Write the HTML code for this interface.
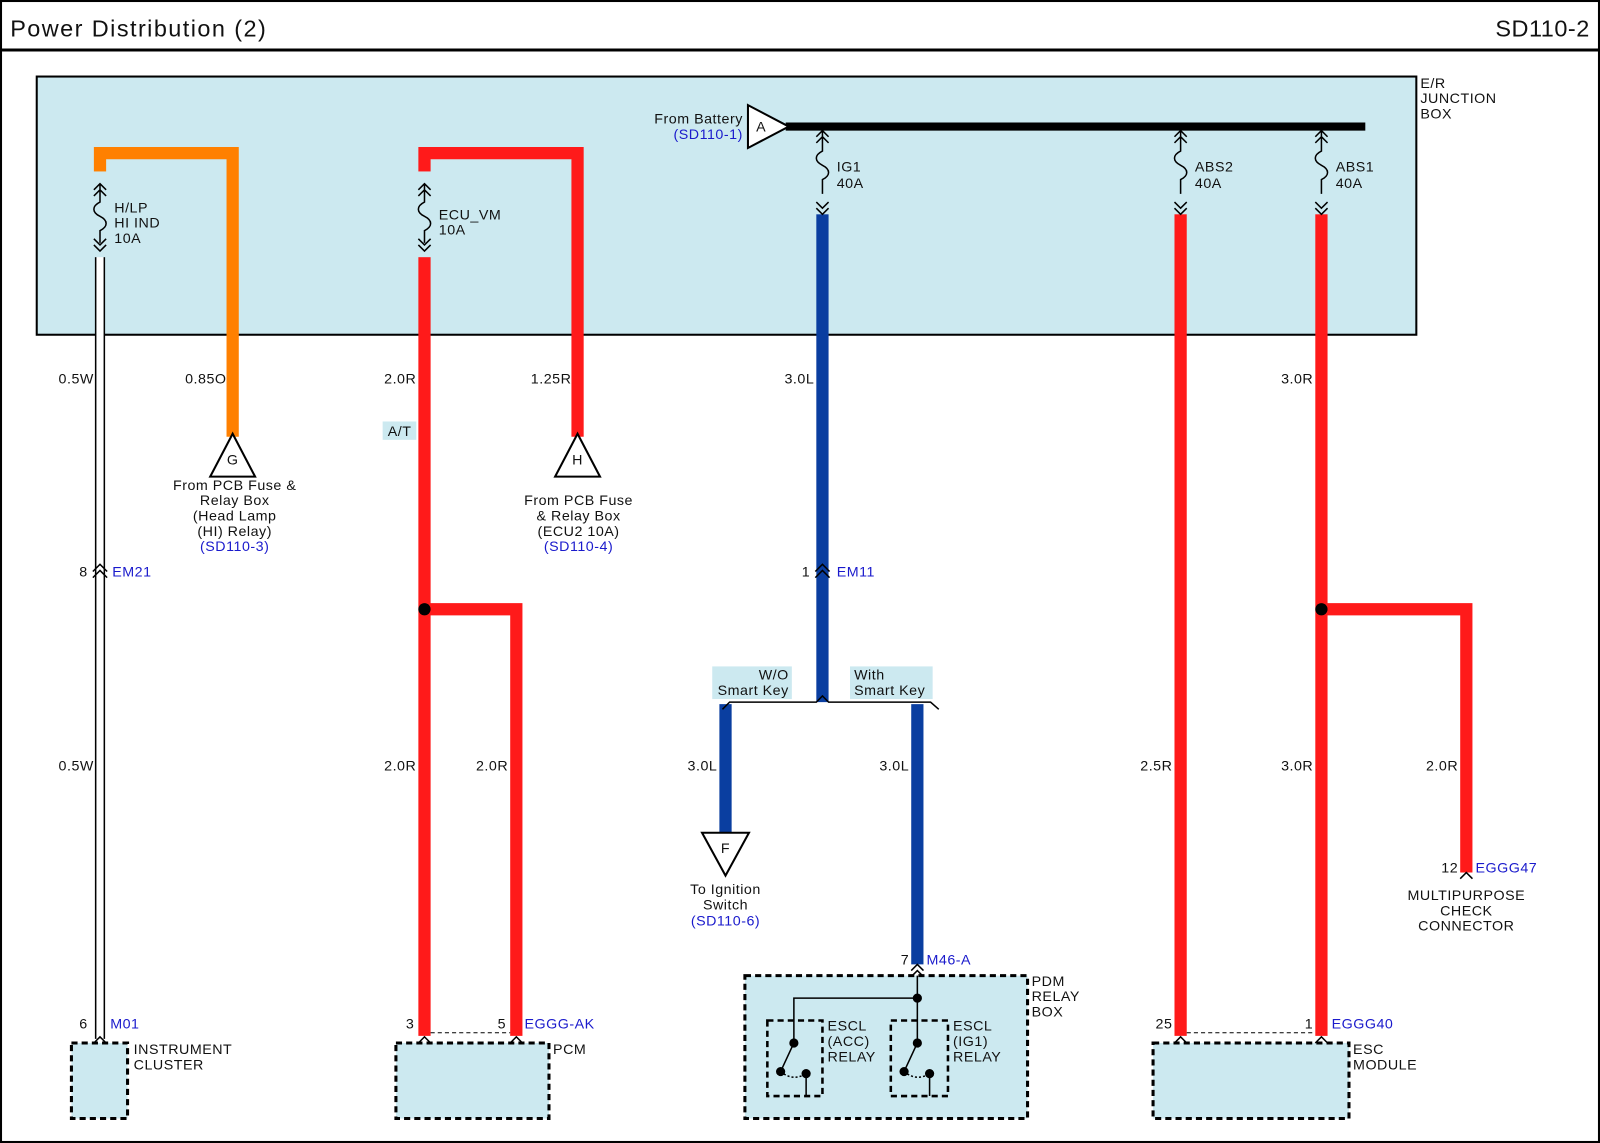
<!DOCTYPE html>
<html><head><meta charset="utf-8"><style>
html,body{margin:0;padding:0;background:#fff}
svg{display:block}
text{font-family:"Liberation Sans",Arial,sans-serif;font-size:14px;letter-spacing:0.5px;fill:#111}
.b{fill:#1a1acc}
</style></head><body>
<svg width="1600" height="1143" viewBox="0 0 1568 1120" preserveAspectRatio="none" xmlns="http://www.w3.org/2000/svg">
<rect x="1" y="1" width="1566" height="1118" fill="#fff" stroke="#000" stroke-width="2"/>
<text x="10" y="36" style="font-size:23px;letter-spacing:1.4px">Power Distribution (2)</text>
<text x="1558" y="36" text-anchor="end" style="font-size:23px;letter-spacing:0.5px">SD110-2</text>
<line x1="0" y1="49" x2="1568" y2="49" stroke="#000" stroke-width="3"/>

<!-- junction box -->
<rect x="36" y="75" width="1352" height="253" fill="#cce9f0" stroke="#000" stroke-width="2"/>
<text x="1392" y="86">E/R</text><text x="1392" y="101">JUNCTION</text><text x="1392" y="116">BOX</text>

<!-- wires -->
<g fill="none" stroke-linejoin="miter">
<polyline points="98,250 98,150 228,150 228,428" stroke="#ff8000" stroke-width="12" />
<polyline points="416,250 416,150 566,150 566,428" stroke="#ff1a1a" stroke-width="12"/>
<line x1="416" y1="250" x2="416" y2="1015" stroke="#ff1a1a" stroke-width="12"/>
<polyline points="416,597 506,597 506,1015" stroke="#ff1a1a" stroke-width="12"/>
<line x1="806" y1="205" x2="806" y2="688" stroke="#0a3ea0" stroke-width="12"/>
<line x1="711" y1="690" x2="711" y2="818" stroke="#0a3ea0" stroke-width="12"/>
<line x1="899" y1="690" x2="899" y2="945" stroke="#0a3ea0" stroke-width="12"/>
<line x1="1157" y1="205" x2="1157" y2="1015" stroke="#ff1a1a" stroke-width="12"/>
<line x1="1295" y1="205" x2="1295" y2="1015" stroke="#ff1a1a" stroke-width="12"/>
<polyline points="1295,597 1437,597 1437,855" stroke="#ff1a1a" stroke-width="12"/>
<line x1="98" y1="250" x2="98" y2="1018" stroke="#000" stroke-width="10"/>
<line x1="98" y1="250" x2="98" y2="1018" stroke="#fff" stroke-width="7"/>
</g>
<rect x="91" y="168" width="14" height="84" fill="#cce9f0"/>
<rect x="409" y="168" width="14" height="84" fill="#cce9f0"/>
<rect x="799" y="129" width="14" height="81" fill="#cce9f0"/>
<rect x="1150" y="129" width="14" height="81" fill="#cce9f0"/>
<rect x="1288" y="129" width="14" height="81" fill="#cce9f0"/>

<!-- battery -->
<line x1="770" y1="124" x2="1338" y2="124" stroke="#000" stroke-width="8"/>
<polygon points="733,103 773,124 733,145" fill="#fff" stroke="#000" stroke-width="2"/>
<text x="741" y="129">A</text>
<text x="728" y="121" text-anchor="end">From Battery</text>
<text x="728" y="136" text-anchor="end" class="b">(SD110-1)</text>

<!-- fuses -->
<g fill="none" stroke="#000" stroke-width="1.5">
<path d="M92,186 l6,-6 l6,6 M92,192 l6,-6 l6,6 M98,180 v18 c-8,4 -8,10 0,14 c8,4 8,10 0,14 v12 M92,234 l6,6 l6,-6 M92,240 l6,6 l6,-6"/>
<path d="M410,186 l6,-6 l6,6 M410,192 l6,-6 l6,6 M416,180 v18 c-8,4 -8,10 0,14 c8,4 8,10 0,14 v12 M410,234 l6,6 l6,-6 M410,240 l6,6 l6,-6"/>
<path d="M800,134 l6,-6 l6,6 M800,140 l6,-6 l6,6 M806,128 v20 c-8,4 -8,10 0,14 c8,4 8,10 0,14 v14 M800,198 l6,6 l6,-6 M800,204 l6,6 l6,-6"/>
<path d="M1151,134 l6,-6 l6,6 M1151,140 l6,-6 l6,6 M1157,128 v20 c-8,4 -8,10 0,14 c8,4 8,10 0,14 v14 M1151,198 l6,6 l6,-6 M1151,204 l6,6 l6,-6"/>
<path d="M1289,134 l6,-6 l6,6 M1289,140 l6,-6 l6,6 M1295,128 v20 c-8,4 -8,10 0,14 c8,4 8,10 0,14 v14 M1289,198 l6,6 l6,-6 M1289,204 l6,6 l6,-6"/>
</g>
<text x="112" y="208">H/LP</text><text x="112" y="223">HI IND</text><text x="112" y="238">10A</text>
<text x="430" y="215">ECU_VM</text><text x="430" y="230">10A</text>
<text x="820" y="168">IG1</text><text x="820" y="184">40A</text>
<text x="1171" y="168">ABS2</text><text x="1171" y="184">40A</text>
<text x="1309" y="168">ABS1</text><text x="1309" y="184">40A</text>

<!-- wire labels -->
<text x="92" y="376" text-anchor="end">0.5W</text>
<text x="222" y="376" text-anchor="end">0.85O</text>
<text x="408" y="376" text-anchor="end">2.0R</text>
<text x="560" y="376" text-anchor="end">1.25R</text>
<text x="798" y="376" text-anchor="end">3.0L</text>
<text x="1287" y="376" text-anchor="end">3.0R</text>
<text x="92" y="755" text-anchor="end">0.5W</text>
<text x="408" y="755" text-anchor="end">2.0R</text>
<text x="498" y="755" text-anchor="end">2.0R</text>
<text x="703" y="755" text-anchor="end">3.0L</text>
<text x="891" y="755" text-anchor="end">3.0L</text>
<text x="1149" y="755" text-anchor="end">2.5R</text>
<text x="1287" y="755" text-anchor="end">3.0R</text>
<text x="1429" y="755" text-anchor="end">2.0R</text>
<rect x="375" y="413" width="33" height="18" fill="#cce9f0"/><text x="380" y="427">A/T</text>

<!-- triangles -->
<polygon points="228,425 206,467 250,467" fill="#fff" stroke="#000" stroke-width="2"/>
<text x="228" y="455" text-anchor="middle">G</text>
<polygon points="566,425 544,467 588,467" fill="#fff" stroke="#000" stroke-width="2"/>
<text x="566" y="455" text-anchor="middle">H</text>
<polygon points="688,816 734,816 711,858" fill="#fff" stroke="#000" stroke-width="2"/>
<text x="711" y="836" text-anchor="middle">F</text>
<g text-anchor="middle">
<text x="230" y="480">From PCB Fuse &amp;</text><text x="230" y="495">Relay Box</text><text x="230" y="510">(Head Lamp</text><text x="230" y="525">(HI) Relay)</text><text x="230" y="540" class="b">(SD110-3)</text>
<text x="567" y="495">From PCB Fuse</text><text x="567" y="510">&amp; Relay Box</text><text x="567" y="525">(ECU2 10A)</text><text x="567" y="540" style="fill:#1a1acc">(SD110-4)</text>
<text x="711" y="876">To Ignition</text><text x="711" y="891">Switch</text><text x="711" y="907" style="fill:#1a1acc">(SD110-6)</text>
<text x="1437" y="882">MULTIPURPOSE</text><text x="1437" y="897">CHECK</text><text x="1437" y="912">CONNECTOR</text>
</g>

<!-- inline connectors -->
<g fill="none" stroke="#000" stroke-width="1.5">
<path d="M91,560 l7,-7 l7,7 M91,566 l7,-7 l7,7"/>
<path d="M799,560 l7,-7 l7,7 M799,566 l7,-7 l7,7"/>
<path d="M708,695 L715,688 H800 L806,682 L812,688 H912 L920,695"/>
<path d="M893,951 l6,-6 l6,6 M893,957 l6,-6 l6,6"/>
<path d="M1431,861 l6,-6 l6,6"/>
</g>
<text x="86" y="565" text-anchor="end">8</text><text x="110" y="565" class="b">EM21</text>
<text x="794" y="565" text-anchor="end">1</text><text x="820" y="565" class="b">EM11</text>
<text x="891" y="945" text-anchor="end">7</text><text x="908" y="945" class="b">M46-A</text>
<text x="1429" y="855" text-anchor="end">12</text><text x="1446" y="855" class="b">EGGG47</text>

<rect x="698" y="653" width="78" height="32" fill="#cce9f0"/>
<text x="773" y="666" text-anchor="end">W/O</text><text x="773" y="681" text-anchor="end">Smart Key</text>
<rect x="833" y="653" width="81" height="32" fill="#cce9f0"/>
<text x="837" y="666">With</text><text x="837" y="681">Smart Key</text>

<circle cx="416" cy="597" r="6" fill="#000"/>
<circle cx="1295" cy="597" r="6" fill="#000"/>

<!-- components -->
<g fill="#cce9f0" stroke="#000" stroke-width="3" stroke-dasharray="6,4">
<rect x="70" y="1022" width="55" height="74"/>
<rect x="388" y="1022" width="150" height="74"/>
<rect x="730" y="956" width="277" height="140"/>
<rect x="1130" y="1022" width="192" height="74"/>
</g>
<g fill="none" stroke="#000" stroke-width="1.5">
<path d="M92,1022 l6,-6 l6,6 M410,1022 l6,-6 l6,6 M500,1022 l6,-6 l6,6 M1151,1022 l6,-6 l6,6 M1289,1022 l6,-6 l6,6"/>
<path d="M422,1012 H500 M1163,1012 H1289" stroke-dasharray="4,3" stroke-width="1"/>
</g>
<text x="86" y="1008" text-anchor="end">6</text><text x="108" y="1008" class="b">M01</text>
<text x="131" y="1033">INSTRUMENT</text><text x="131" y="1048">CLUSTER</text>
<text x="406" y="1008" text-anchor="end">3</text><text x="496" y="1008" text-anchor="end">5</text><text x="514" y="1008" class="b">EGGG-AK</text>
<text x="542" y="1033">PCM</text>
<text x="1149" y="1008" text-anchor="end">25</text><text x="1287" y="1008" text-anchor="end">1</text><text x="1305" y="1008" class="b">EGGG40</text>
<text x="1326" y="1033">ESC</text><text x="1326" y="1048">MODULE</text>
<text x="1011" y="966">PDM</text><text x="1011" y="981">RELAY</text><text x="1011" y="996">BOX</text>

<!-- relays -->
<g fill="none" stroke="#000" stroke-width="2.5" stroke-dasharray="6,4">
<rect x="752" y="1000" width="54" height="74"/>
<rect x="873" y="1000" width="56" height="74"/>
</g>
<g stroke="#000" stroke-width="1.5" fill="none">
<path d="M899,956 V1022 M899,978 H778 V1022"/>
<path d="M778,1022 L765,1050 M899,1022 L886,1050"/>
<path d="M765,1050 Q777,1060 790,1052 M886,1050 Q898,1060 911,1052" stroke-dasharray="2,2"/>
<path d="M790,1052 V1074 M911,1052 V1074"/>
</g>
<g fill="#000">
<circle cx="899" cy="978" r="4.5"/><circle cx="778" cy="1022" r="4.5"/><circle cx="899" cy="1022" r="4.5"/>
<circle cx="765" cy="1050" r="4.5"/><circle cx="790" cy="1052" r="4.5"/><circle cx="886" cy="1050" r="4.5"/><circle cx="911" cy="1052" r="4.5"/>
</g>
<text x="811" y="1010">ESCL</text><text x="811" y="1025">(ACC)</text><text x="811" y="1040">RELAY</text>
<text x="934" y="1010">ESCL</text><text x="934" y="1025">(IG1)</text><text x="934" y="1040">RELAY</text>
</svg>
</body></html>
